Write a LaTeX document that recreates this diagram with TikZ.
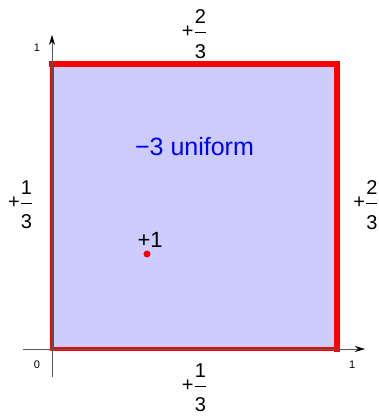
\documentclass[tikz,border=0pt]{standalone}
\usepackage{amsmath}
\usepackage{fontspec}
\setmainfont{Liberation Sans}
\usetikzlibrary{arrows.meta}

\newcommand{\plusfrac}[2]{$\text{+}\dfrac{\text{#1}}{\raisebox{-6pt}{#2}}$}

\begin{document}
\begin{tikzpicture}[x=285pt,y=285pt,line join=miter,
    axis/.style={gray!70!black,line width=0.6pt,-{Stealth[color=black,length=10pt,width=6pt]}},
    tick/.style={font=\fontsize{11}{13}\selectfont},
    charge/.style={font=\fontsize{20}{24}\selectfont,inner sep=0pt}]
  \useasboundingbox (-0.1825,-0.2351) rectangle (1.1439,1.2246);

  \fill[blue!20] (0,0) rectangle (1,1);
  \draw[red,line width=3.5pt,line cap=rect] (1,0) -- (0,0) -- (0,1);
  \draw[red,line width=6.5pt,line cap=rect] (0,1) -- (1,1) -- (1,0);

  \draw[axis] (-0.102,0) -- (1.098,0);
  \draw[axis] (0,-0.098) -- (0,1.102);
  \node[tick] (origin) at (-0.053,-0.056) {0};
  \node[tick] (xone) at (1.053,-0.056) {1};
  \node[tick] (yone) at (-0.053,1.056) {1};

  \node[charge] (top) at (0.5,1.105) {\plusfrac{2}{3}};
  \node[charge] (right) at (1.102,0.505) {\plusfrac{2}{3}};
  \node[charge] (left) at (-0.11,0.505) {\plusfrac{1}{3}};
  \node[charge] (bottom) at (0.5,-0.136) {\plusfrac{1}{3}};

  \node[blue,font=\fontsize{25}{30}\selectfont] (uniform) at (0.5,0.71) {−3 uniform};
  \node[circle,fill=red,inner sep=0pt,minimum size=7pt] (pcharge) at (1/3,1/3) {};
  \node[font=\fontsize{22}{26}\selectfont,inner sep=0pt] (plabel) at (0.344,0.382) {+1};
\end{tikzpicture}
\end{document}
